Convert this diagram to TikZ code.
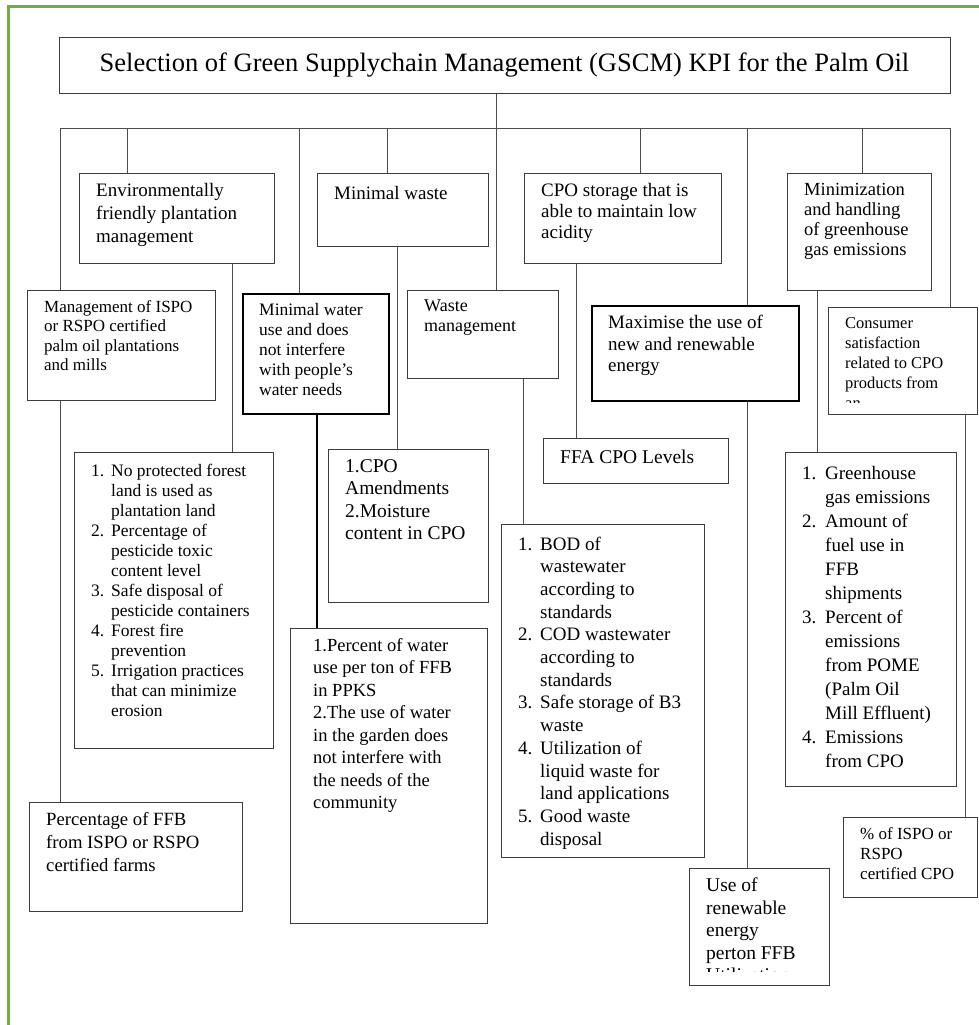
\documentclass[tikz,border=0pt]{standalone}
\usepackage{fontspec}
\setmainfont{Liberation Serif}
\definecolor{framegreen}{HTML}{70AD47}
\definecolor{inkgray}{HTML}{3C3C3C}
\newcommand{\kpifont}[2]{\fontsize{#1}{#2}\selectfont}

\tikzset{
  kpi/.style={draw=inkgray, line width=1pt, anchor=north west, inner sep=0pt},
  kpibold/.style={kpi, draw=black, line width=1.7pt},
  kpitext/.style={anchor=north west, align=left, inner xsep=17pt, inner ysep=10pt,
    execute at begin node=\strut},
  link/.style={draw=black!70, line width=0.8pt},
}

\begin{document}
\begin{tikzpicture}[x=1pt,y=-1pt]
  \useasboundingbox (0,0) rectangle (979,1025);
  % green frame of the figure
  \draw[framegreen, line width=3pt] (8,1025) -- (8,7) -- (979,7);

  % title and bus
  \node[kpi, anchor=center, minimum width=891pt, minimum height=55pt, font=\kpifont{26.5}{30}] (title) at (504.5,65.5)
    {Selection of Green Supplychain Management (GSCM) KPI for the Palm Oil};
  \coordinate (hub) at (496,128);
  \coordinate (tapA) at (60,128);
  \coordinate (tapB) at (127,128);
  \coordinate (tapC) at (299,128);
  \coordinate (tapD) at (387,128);
  \coordinate (tapF) at (640,128);
  \coordinate (tapG) at (747,128);
  \coordinate (tapH) at (862,128);
  \coordinate (tapI) at (950,128);

  % first row
  \node[kpi, minimum width=195pt, minimum height=90pt,
    label={[kpitext, font=\kpifont{19}{23}]north west:{Environmentally\\friendly plantation\\management}}] (env) at (79,173) {};
  \node[kpi, minimum width=171pt, minimum height=73pt,
    label={[kpitext, font=\kpifont{19}{23}]north west:{Minimal waste}}] (waste) at (317,173) {};
  \node[kpi, minimum width=197pt, minimum height=90pt,
    label={[kpitext, font=\kpifont{19}{21}]north west:{CPO storage that is\\able to maintain low\\acidity}}] (storage) at (524,173) {};
  \node[kpi, minimum width=144pt, minimum height=117pt,
    label={[kpitext, font=\kpifont{18.5}{20}]north west:{Minimization\\and handling\\of greenhouse\\gas emissions}}] (minim) at (787,173) {};

  % second row
  \node[kpi, minimum width=188pt, minimum height=110pt,
    label={[kpitext, font=\kpifont{17}{19.5}]north west:{Management of ISPO\\or RSPO certified\\palm oil plantations\\and mills}}] (mgmt) at (27,290) {};
  \node[kpibold, minimum width=146pt, minimum height=120pt,
    label={[kpitext, font=\kpifont{17.5}{20}]north west:{Minimal water\\use and does\\not interfere\\with people's\\water needs}}] (water) at (242,293) {};
  \node[kpi, minimum width=151pt, minimum height=88pt,
    label={[kpitext, font=\kpifont{18}{20}]north west:{Waste\\management}}] (wmgmt) at (407,290) {};
  \node[kpibold, minimum width=207pt, minimum height=95pt,
    label={[kpitext, font=\kpifont{19}{21.7}]north west:{Maximise the use of\\new and renewable\\energy}}] (maxim) at (591,305) {};
  \node[kpi, minimum width=149pt, minimum height=107pt] (consumer) at (828,307) {};
  \begin{scope}
    \clip (consumer.north west) rectangle ([yshift=13pt]consumer.south east);
    \node[kpitext, font=\kpifont{16.5}{20}] (consumertext) at (consumer.north west)
      {Consumer\\satisfaction\\related to CPO\\products from\\an};
  \end{scope}

  % third row
  \node[kpi, minimum width=199pt, minimum height=296pt,
    label={[kpitext, font=\kpifont{17.5}{20}]north west:{\begin{tabular}[t]{@{}p{20pt}@{}l@{}}
      1. & No protected forest\\
         & land is used as\\
         & plantation land\\
      2. & Percentage of\\
         & pesticide toxic\\
         & content level\\
      3. & Safe disposal of\\
         & pesticide containers\\
      4. & Forest fire\\
         & prevention\\
      5. & Irrigation practices\\
         & that can minimize\\
         & erosion
    \end{tabular}}}] (plant) at (74,452) {};
  \node[kpi, minimum width=160pt, minimum height=153pt,
    label={[kpitext, font=\kpifont{19.5}{22.5}]north west:{1.CPO\\Amendments\\2.Moisture\\content in CPO}}] (cpoam) at (328,449) {};
  \node[kpi, minimum width=185pt, minimum height=45pt,
    label={[kpitext, font=\kpifont{19.5}{22}]north west:{FFA CPO Levels}}] (ffa) at (543,438) {};
  \node[kpi, minimum width=203pt, minimum height=333pt,
    label={[kpitext, font=\kpifont{19}{22.7}]north west:{\begin{tabular}[t]{@{}p{22pt}@{}l@{}}
      1. & BOD of\\
         & wastewater\\
         & according to\\
         & standards\\
      2. & COD wastewater\\
         & according to\\
         & standards\\
      3. & Safe storage of B3\\
         & waste\\
      4. & Utilization of\\
         & liquid waste for\\
         & land applications\\
      5. & Good waste\\
         & disposal
    \end{tabular}}}] (bod) at (501,524) {};
  \node[kpi, minimum width=171pt, minimum height=334pt,
    label={[kpitext, font=\kpifont{19}{24}]north west:{\begin{tabular}[t]{@{}p{23pt}@{}l@{}}
      1. & Greenhouse\\
         & gas emissions\\
      2. & Amount of\\
         & fuel use in\\
         & FFB\\
         & shipments\\
      3. & Percent of\\
         & emissions\\
         & from POME\\
         & (Palm Oil\\
         & Mill Effluent)\\
      4. & Emissions\\
         & from CPO
    \end{tabular}}}] (ghg) at (785,452) {};

  % fourth row
  \node[kpi, minimum width=197pt, minimum height=295pt,
    label={[kpitext, inner xsep=23pt, font=\kpifont{18.5}{22.5}]north west:{1.Percent of water\\use per ton of FFB\\in PPKS\\2.The use of water\\in the garden does\\not interfere with\\the needs of the\\community}}] (pctwater) at (290,628) {};
  \node[kpi, minimum width=213pt, minimum height=109pt,
    label={[kpitext, font=\kpifont{18.7}{23}]north west:{Percentage of FFB\\from ISPO or RSPO\\certified farms}}] (ffb) at (29,802) {};
  \node[kpi, minimum width=134pt, minimum height=80pt,
    label={[kpitext, font=\kpifont{17}{20}]north west:{\% of ISPO or\\RSPO\\certified CPO}}] (ispo) at (843,817) {};
  \node[kpi, minimum width=140pt, minimum height=117pt] (useren) at (689,868) {};
  \begin{scope}
    \clip (useren.north west) rectangle ([yshift=15pt]useren.south east);
    \node[kpitext, font=\kpifont{19.5}{22.5}] (userentext) at (useren.north west)
      {Use of\\renewable\\energy\\perton FFB\\Utilization};
  \end{scope}

  % exit points under the boxes
  \coordinate (envout) at ([xshift=153pt]env.south west);
  \coordinate (waterout) at ([xshift=75pt]water.south west);
  \coordinate (wasteout) at ([xshift=80pt]waste.south west);
  \coordinate (wmgmtout) at ([xshift=116pt]wmgmt.south west);
  \coordinate (storageout) at ([xshift=52pt]storage.south west);
  \coordinate (minimout) at ([xshift=30pt]minim.south west);
  \coordinate (consumerout) at ([xshift=137pt]consumer.south west);

  % connectors
  \draw[link] (title.south -| hub) -- (hub);
  \draw[link] (tapA) -- (tapI);
  \draw[link] (tapA) -- (tapA |- mgmt.north);
  \draw[link] (tapA |- mgmt.south) -- (tapA |- ffb.north);
  \draw[link] (tapB) -- (tapB |- env.north);
  \draw[link] (envout) -- (envout |- plant.north);
  \draw[link] (tapC) -- (tapC |- water.north);
  \draw[draw=black, line width=1.6pt] (waterout) -- (waterout |- pctwater.north);
  \draw[link] (tapD) -- (tapD |- waste.north);
  \draw[link] (wasteout) -- (wasteout |- cpoam.north);
  \draw[link] (hub) -- (hub |- wmgmt.north);
  \draw[link] (wmgmtout) -- (wmgmtout |- bod.north);
  \draw[link] (tapF) -- (tapF |- storage.north);
  \draw[link] (storageout) -- (storageout |- ffa.north);
  \draw[link] (tapG) -- (tapG |- maxim.north);
  \draw[link] (tapG |- maxim.south) -- (tapG |- useren.north);
  \draw[link] (tapH) -- (tapH |- minim.north);
  \draw[link] (minimout) -- (minimout |- ghg.north);
  \draw[link] (tapI) -- (tapI |- consumer.north);
  \draw[link] (consumerout) -- (consumerout |- ispo.north);
\end{tikzpicture}
\end{document}
